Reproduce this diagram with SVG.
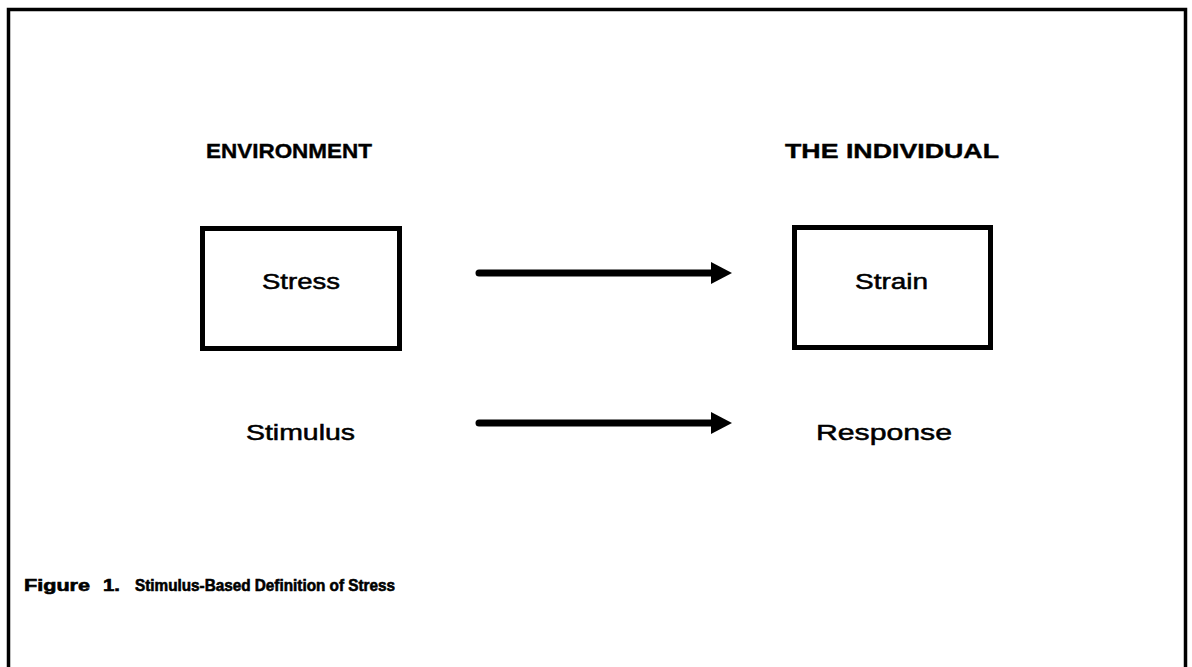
<svg xmlns="http://www.w3.org/2000/svg" width="1192" height="667" viewBox="0 0 1192 667">
<style>
.lbl{font-family:"Liberation Sans",Arial,Helvetica,sans-serif;font-size:22px;fill:#000;stroke:#000;stroke-width:0.5}
.hdr{font-family:"Liberation Sans",Arial,Helvetica,sans-serif;font-size:21px;font-weight:bold;fill:#000;stroke:#000;stroke-width:0.4}
.cap{font-family:"Liberation Sans",Arial,Helvetica,sans-serif;font-size:16px;font-weight:bold;fill:#000;stroke:#000;stroke-width:0.6}
.box{fill:#fff;stroke:#000;stroke-width:5}
.conn{stroke:#000;stroke-width:7;stroke-linecap:round;fill:none}
</style>
<defs>
<marker id="ah" markerUnits="userSpaceOnUse" markerWidth="21" markerHeight="24" refX="1" refY="12" orient="auto">
<path d="M0,1 L21,12 L0,23 Z" fill="#000"/>
</marker>
</defs>
<rect width="1192" height="667" fill="#fff"/>
<rect id="frame" x="8.5" y="9.5" width="1177" height="700" fill="none" stroke="#000" stroke-width="3.5"/>
<g id="environment-header"><text class="hdr" x="206" y="158" textLength="166" lengthAdjust="spacingAndGlyphs">ENVIRONMENT</text></g>
<g id="individual-header"><text class="hdr" x="785" y="158" textLength="214" lengthAdjust="spacingAndGlyphs">THE INDIVIDUAL</text></g>
<g id="stress">
<rect class="box" x="202.5" y="228.5" width="197" height="120"/>
<text class="lbl" x="262" y="289" textLength="78" lengthAdjust="spacingAndGlyphs">Stress</text>
</g>
<g id="strain">
<rect class="box" x="794.5" y="227.5" width="196" height="120"/>
<text class="lbl" x="855" y="289" textLength="73" lengthAdjust="spacingAndGlyphs">Strain</text>
</g>
<g id="stimulus"><text class="lbl" x="246" y="440" textLength="109" lengthAdjust="spacingAndGlyphs">Stimulus</text></g>
<g id="response"><text class="lbl" x="816" y="440" textLength="136" lengthAdjust="spacingAndGlyphs">Response</text></g>
<g id="connectors">
<line class="conn" x1="479" y1="273" x2="712" y2="273" marker-end="url(#ah)"/>
<line class="conn" x1="479" y1="423" x2="712" y2="423" marker-end="url(#ah)"/>
</g>
<g id="caption">
<text class="cap" x="24" y="591"><tspan textLength="66" lengthAdjust="spacingAndGlyphs">Figure</tspan><tspan x="103" textLength="17" lengthAdjust="spacingAndGlyphs">1.</tspan></text>
<text class="cap" x="135" y="591" textLength="260" lengthAdjust="spacingAndGlyphs">Stimulus-Based Definition of Stress</text>
</g>
</svg>
